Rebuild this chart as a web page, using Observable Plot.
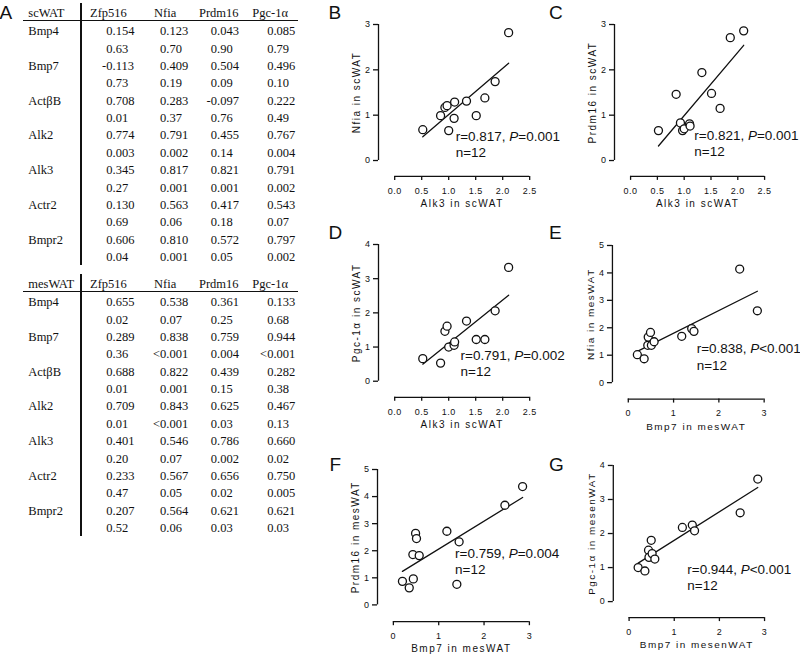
<!DOCTYPE html>
<html>
<head>
<meta charset="utf-8">
<script src="https://cdn.jsdelivr.net/npm/d3@7"></script>
<script src="https://cdn.jsdelivr.net/npm/@observablehq/plot@0.6"></script>
<style>
  html, body { margin: 0; padding: 0; background: #fff; overflow: hidden; }
  #page { position: relative; width: 800px; height: 657px; background: #fff; }
  .cell { position: absolute; font-family: "Liberation Serif", "Times New Roman", serif; font-size: 12.5px; line-height: 17px; height: 17px; color: #111; white-space: nowrap; }
  .letter { position: absolute; font-family: "Liberation Sans", Arial, sans-serif; font-size: 19px; line-height: 19px; color: #111; }
  .hline, .vline { position: absolute; background: #111; }
  .panel { position: absolute; }
  .panel svg { overflow: visible; }
  [aria-label="x-axis tick label"] text, [aria-label="y-axis tick label"] text { letter-spacing: 0.5px; }
</style>
</head>
<body>
<div id="page"></div>
<script>
// ---------- Table data (panel A) ----------
const genes = ["Bmp4", "Bmp7", "ActβB", "Alk2", "Alk3", "Actr2", "Bmpr2"];
const markers = ["Zfp516", "Nfia", "Prdm16", "Pgc-1α"];
const scR = [
  ["0.154", "0.123", "0.043", "0.085"],
  ["-0.113", "0.409", "0.504", "0.496"],
  ["0.708", "0.283", "-0.097", "0.222"],
  ["0.774", "0.791", "0.455", "0.767"],
  ["0.345", "0.817", "0.821", "0.791"],
  ["0.130", "0.563", "0.417", "0.543"],
  ["0.606", "0.810", "0.572", "0.797"]
];
const scP = [
  ["0.63", "0.70", "0.90", "0.79"],
  ["0.73", "0.19", "0.09", "0.10"],
  ["0.01", "0.37", "0.76", "0.49"],
  ["0.003", "0.002", "0.14", "0.004"],
  ["0.27", "0.001", "0.001", "0.002"],
  ["0.69", "0.06", "0.18", "0.07"],
  ["0.04", "0.001", "0.05", "0.002"]
];
const mesR = [
  ["0.655", "0.538", "0.361", "0.133"],
  ["0.289", "0.838", "0.759", "0.944"],
  ["0.688", "0.822", "0.439", "0.282"],
  ["0.709", "0.843", "0.625", "0.467"],
  ["0.401", "0.546", "0.786", "0.660"],
  ["0.233", "0.567", "0.656", "0.750"],
  ["0.207", "0.564", "0.621", "0.621"]
];
const mesP = [
  ["0.02", "0.07", "0.25", "0.68"],
  ["0.36", "<0.001", "0.004", "<0.001"],
  ["0.01", "0.001", "0.15", "0.38"],
  ["0.01", "<0.001", "0.03", "0.13"],
  ["0.20", "0.07", "0.002", "0.02"],
  ["0.47", "0.05", "0.02", "0.005"],
  ["0.52", "0.06", "0.03", "0.03"]
];

// ---------- Scatter data (panels B-G) ----------
const alk3Sc   = [0.52, 0.85, 0.93, 0.97, 1.00, 1.10, 1.11, 1.33, 1.51, 1.67, 1.86, 2.11];
const nfiaSc   = [0.68, 0.99, 1.17, 1.21, 0.66, 0.93, 1.29, 1.31, 0.99, 1.38, 1.74, 2.82];
const prdm16Sc = [0.66, 1.46, 0.83, 0.66, 0.70, 0.81, 0.76, 1.94, 1.48, 1.15, 2.71, 2.86];
const pgcSc    = [0.66, 0.53, 1.46, 1.61, 1.00, 1.05, 1.15, 1.76, 1.22, 1.22, 2.06, 3.33];
const bmp7Mes  = [0.20, 0.35, 0.43, 0.44, 0.49, 0.51, 0.57, 1.18, 1.40, 1.45, 2.46, 2.85];
const nfiaMes  = [1.02, 0.87, 1.36, 1.66, 1.83, 1.36, 1.49, 1.69, 1.97, 1.87, 4.14, 2.62];
const prdm16Mes= [0.87, 0.63, 1.86, 0.96, 2.64, 2.45, 1.82, 2.72, 0.76, 2.33, 3.68, 4.37];
const pgcMes   = [1.00, 0.90, 1.51, 1.30, 1.80, 1.41, 1.25, 2.18, 2.25, 2.08, 2.61, 3.60];

const ticksAlk = [0, 0.5, 1, 1.5, 2, 2.5];
const ticksBmp = [0, 1, 2, 3];
const ticks3 = [0, 1, 2, 3];
const ticks4 = [0, 1, 2, 3, 4];
const ticks5 = [0, 1, 2, 3, 4, 5];

const stats = {
  B: "r=0.817, P=0.001\nn=12",
  C: "r=0.821, P=0.001\nn=12",
  D: "r=0.791, P=0.002\nn=12",
  E: "r=0.838, P<0.001\nn=12",
  F: "r=0.759, P=0.004\nn=12",
  G: "r=0.944, P<0.001\nn=12"
};

const page = document.getElementById("page");

// ---------- Table drawing ----------
const decX = [112.5, 166.3, 217, 273.4];
const headX = [90, 154, 199, 252.3];
function addDiv(cls, css, text) {
  const d = document.createElement("div");
  d.className = cls;
  Object.assign(d.style, css);
  if (text != null) d.textContent = text;
  page.appendChild(d);
  return d;
}
function drawTable(title, R, P, off) {
  addDiv("cell", {left: "28.3px", top: (13 + off - 8.5) + "px"}, title);
  markers.forEach((m, j) => addDiv("cell", {left: headX[j] + "px", top: (13 + off - 8.5) + "px"}, m));
  addDiv("hline", {left: "23px", top: (20.2 + off) + "px", width: "275px", height: "1px"});
  addDiv("vline", {left: "80.3px", top: (3 + off) + "px", width: "1.5px", height: "262px"});
  const rows = [];
  genes.forEach((g, i) => { rows.push({label: g, vals: R[i]}); rows.push({label: "", vals: P[i]}); });
  rows.forEach((r, i) => {
    const cy = 31.7 + off + i * 17.38;
    if (r.label) addDiv("cell", {left: "28.3px", top: (cy - 8.5) + "px"}, r.label);
    r.vals.forEach((s, j) => {
      const k = s.indexOf(".");
      addDiv("cell", {left: (decX[j] - 40) + "px", width: "40px", textAlign: "right", top: (cy - 8.5) + "px"}, s.slice(0, k));
      addDiv("cell", {left: decX[j] + "px", top: (cy - 8.5) + "px"}, s.slice(k));
    });
  });
}
drawTable("scWAT", scR, scP, 0);
drawTable("mesWAT", mesR, mesP, 271);

// ---------- Panel letters ----------
const letters = [["A", -0.5, 2.5], ["B", 328.5, 2.5], ["C", 549, 2.5], ["D", 328.5, 223], ["E", 549, 223], ["F", 329.5, 455], ["G", 549, 455]];
letters.forEach(([t, l, tp]) => addDiv("letter", {left: l + "px", top: tp + "px"}, t));

// ---------- Scatter panels ----------
const M = {l: 50, t: 10, r: 36, b: 40};
const panels = [
  {key: "B", x: alk3Sc, y: nfiaSc, xLabel: "Alk3 in scWAT", yLabel: "Nfia in scWAT", xTicks: ticksAlk, yTicks: ticks3, xMax: 2.5, yMax: 3, xAxisAt: -0.3, yAxisAt: -0.35, fmt: d3.format(".1f"), statAt: [1.13, 0.375], frame: {l: 377.8, r: 529, t: 24, b: 175.9}},
  {key: "C", x: alk3Sc, y: prdm16Sc, xLabel: "Alk3 in scWAT", yLabel: "Prdm16 in scWAT", xTicks: ticksAlk, yTicks: ticks3, xMax: 2.5, yMax: 3, xAxisAt: -0.3, yAxisAt: -0.35, fmt: d3.format(".1f"), statAt: [1.19, 0.386], frame: {l: 613.9, r: 764, t: 24, b: 175.9}},
  {key: "D", x: alk3Sc, y: pgcSc, xLabel: "Alk3 in scWAT", yLabel: "Pgc-1α in scWAT", xTicks: ticksAlk, yTicks: ticks4, xMax: 2.5, yMax: 4, xAxisAt: -0.3, yAxisAt: -0.47, fmt: d3.format(".1f"), statAt: [1.22, 0.53], frame: {l: 377.8, r: 529, t: 244, b: 396.8}},
  {key: "E", x: bmp7Mes, y: nfiaMes, xLabel: "Bmp7 in mesWAT", yLabel: "Nfia in mesWAT", xTicks: ticksBmp, yTicks: ticks5, xMax: 3, yMax: 5, xAxisAt: -0.35, yAxisAt: -0.6, fmt: d3.format("d"), statAt: [1.51, 0.96], frame: {l: 612.4, r: 764.3, t: 245, b: 398.8}},
  {key: "F", x: bmp7Mes, y: prdm16Mes, xLabel: "Bmp7 in mesWAT", yLabel: "Prdm16 in mesWAT", xTicks: ticksBmp, yTicks: ticks5, xMax: 3, yMax: 5, xAxisAt: -0.35, yAxisAt: -0.62, fmt: d3.format("d"), statAt: [1.36, 1.63], frame: {l: 377.4, r: 529.3, t: 469.3, b: 621.5}},
  {key: "G", x: bmp7Mes, y: pgcMes, xLabel: "Bmp7 in mesenWAT", yLabel: "Pgc-1α in mesenWAT", xTicks: ticksBmp, yTicks: ticks4, xMax: 3, yMax: 4, xAxisAt: -0.35, yAxisAt: -0.47, fmt: d3.format("d"), statAt: [1.29, 0.72], frame: {l: 613.1, r: 765, t: 465, b: 617.8}}
];

panels.forEach(p => {
  const data = p.x.map((v, i) => ({x: v, y: p.y[i]}));
  const fw = p.frame.r - p.frame.l, fh = p.frame.b - p.frame.t;
  const ink = "#111";
  const chart = Plot.plot({
    width: fw + M.l + M.r,
    height: fh + M.t + M.b,
    marginLeft: M.l, marginRight: M.r, marginTop: M.t, marginBottom: M.b,
    x: {domain: [p.xAxisAt, p.xMax]},
    y: {domain: [p.yAxisAt, p.yMax]},
    style: {fontFamily: "'Liberation Sans', Arial, sans-serif", fontSize: "9px", color: ink, background: "transparent", overflow: "visible"},
    marks: [
      Plot.ruleX([p.xAxisAt], {y1: 0, y2: p.yMax, stroke: ink, strokeWidth: 1.3}),
      Plot.ruleY([p.yAxisAt], {x1: 0, x2: p.xMax, stroke: ink, strokeWidth: 1.3}),
      Plot.axisY({ticks: p.yTicks, tickSize: 5, tickPadding: 3, label: null, strokeWidth: 1.3, tickFormat: d3.format("d")}),
      Plot.axisX({ticks: p.xTicks, tickSize: 4, tickPadding: 7, label: null, strokeWidth: 1.3, tickFormat: p.fmt}),
      Plot.linearRegressionY(data, {x: "x", y: "y", ci: 0, stroke: ink, strokeWidth: 1.3}),
      Plot.dot(data, {x: "x", y: "y", r: 4, fill: "white", stroke: ink, strokeWidth: 1.3}),
      Plot.text([p.yLabel], {text: d => d, y: p.yMax / 2, frameAnchor: "left", textAnchor: "middle", lineAnchor: "middle", dx: -22, rotate: -90, fontSize: 10, fill: ink}),
      Plot.text([p.xLabel], {text: d => d, x: p.xMax / 2, frameAnchor: "bottom", textAnchor: "middle", dy: 27.5, fontSize: 10, fill: ink, lineAnchor: "middle"}),
      Plot.text([stats[p.key]], {text: d => d, x: p.statAt[0], y: p.statAt[1], textAnchor: "start", lineAnchor: "middle", lineHeight: 1.2, fontSize: 13.5, fill: ink})
    ]
  });
  // italic P in the statistic line
  chart.querySelectorAll("tspan, text").forEach(el => {
    if (el.children.length === 0 && /^r=/.test(el.textContent)) {
      const t = el.textContent;
      const k = t.indexOf("P");
      el.innerHTML = "";
      const ns = "http://www.w3.org/2000/svg";
      const a = document.createElementNS(ns, "tspan"); a.textContent = t.slice(0, k);
      const b = document.createElementNS(ns, "tspan"); b.textContent = "P"; b.setAttribute("font-style", "italic");
      const c = document.createElementNS(ns, "tspan"); c.textContent = t.slice(k + 1);
      el.append(a, b, c);
    }
  });
  // letter spacing for axis titles
  chart.querySelectorAll("text").forEach(el => {
    if (el.textContent === p.xLabel || el.textContent === p.yLabel) el.style.letterSpacing = "1.5px";
  });
  const wrap = document.createElement("div");
  wrap.className = "panel";
  wrap.style.left = (p.frame.l - M.l) + "px";
  wrap.style.top = (p.frame.t - M.t) + "px";
  wrap.appendChild(chart);
  page.appendChild(wrap);
});
</script>
</body>
</html>
